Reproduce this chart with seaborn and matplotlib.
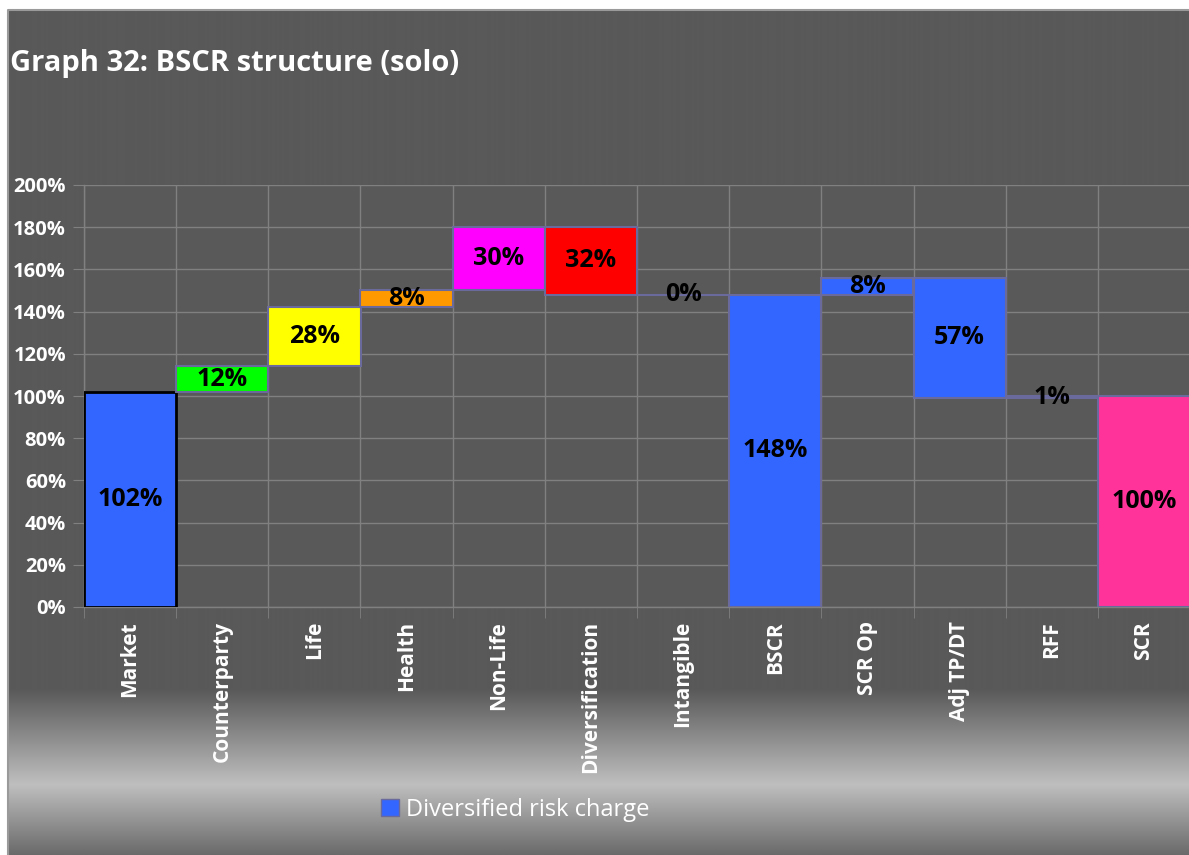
import numpy as np
import pandas as pd
import matplotlib
matplotlib.use('Agg')
import matplotlib.pyplot as plt
from matplotlib.patches import Patch, Rectangle
import seaborn as sns

# waterfall steps of the BSCR build-up (in % of SCR)
categories = ['Market', 'Counterparty', 'Life', 'Health', 'Non-Life', 'Diversification',
              'Intangible', 'BSCR', 'SCR Op', 'Adj TP/DT', 'RFF', 'SCR']
bases = [0, 102, 114, 142, 150, 148, 148, 0, 148, 99, 99, 0]
heights = [102, 12, 28, 8, 30, 32, 0, 148, 8, 57, 1, 100]
labels = ['102%', '12%', '28%', '8%', '30%', '32%', '0%', '148%', '8%', '57%', '1%', '100%']
colors = ['#3366ff', '#00ff00', '#ffff00', '#ff9900', '#ff00ff', '#ff0000',
          '#3366ff', '#3366ff', '#3366ff', '#3366ff', '#3366ff', '#ff3399']
yticks = list(range(0, 201, 20))

df = pd.DataFrame({'cat': categories, 'base': bases, 'height': heights})

sns.set_style('dark')
plt.rcParams['font.family'] = ['Open Sans', 'DejaVu Sans']

bg = '#595959'
grid_c = '#808080'
edge_c = '#6a6a9c'

fig = plt.figure(figsize=(11.89, 8.55), dpi=100, facecolor=bg)

# background panel with gradient at the bottom, white margin top/left
bgax = fig.add_axes([0, 0, 1, 1], zorder=0)
bgax.set_xlim(0, 1189)
bgax.set_ylim(855, 0)
bgax.axis('off')
rows = np.linspace(0, 855, 856)
shade = np.full(rows.shape, 0x59 / 255)
g1 = (rows >= 690) & (rows < 785)
shade[g1] = 0x59 / 255 + (0xbf - 0x59) / 255 * (rows[g1] - 690) / 95
g2 = rows >= 785
shade[g2] = 0xbf / 255 - (0xbf - 0x6a) / 255 * (rows[g2] - 785) / 70
img = np.repeat(shade[:, None], 2, axis=1)
bgax.imshow(np.dstack([img, img, img]), extent=[0, 1195, 855, 0], aspect='auto')
bgax.add_patch(Rectangle((-5, -5), 1205, 15.5, facecolor='white', lw=0))
bgax.add_patch(Rectangle((-5, -5), 12.5, 870, facecolor='white', lw=0))
bgax.plot([7.5, 7.5, 1195], [860, 10.5, 10.5], color='#9a9a9a', lw=1.5)

# axes run a little past the right edge so the SCR bar is cut off there
ax = fig.add_axes([84 / 1189, 1 - 607 / 855, 1106 / 1189, (607 - 185) / 855], zorder=1)
ax.set_facecolor(bg)

sns.barplot(data=df, x='cat', y='height', bottom=df['base'].to_numpy(), width=1.0,
            errorbar=None, ax=ax, color=colors[0], saturation=1,
            linewidth=1.5, edgecolor=edge_c, zorder=3)
for i, p in enumerate(ax.patches):
    p.set_facecolor(colors[i])
    if i == 0:
        p.set_edgecolor('black')
        p.set_linewidth(2)

for i, (b, h, t) in enumerate(zip(bases, heights, labels)):
    ax.text(i, b + h / 2, t, ha='center', va='center', fontsize=18,
            fontweight='bold', color='black', zorder=4)

ax.set_xlim(-0.5, 11.5)
ax.set_ylim(0, 200)
ax.set_yticks(yticks)
ax.set_yticklabels([f'{v}%' for v in yticks])
ax.set_xticks(np.arange(len(categories)))
ax.set_xticklabels(categories, rotation=90)
ax.set_xticks(np.arange(-0.5, 12, 1), minor=True)
ax.grid(False)
ax.grid(True, which='major', axis='y', color=grid_c, lw=1, zorder=0)
ax.grid(True, which='minor', axis='x', color=grid_c, lw=1, zorder=0)
ax.tick_params(axis='y', which='major', length=8, color=grid_c, labelcolor='white',
               labelsize=14.5, pad=5, left=True)
ax.tick_params(axis='x', which='major', length=0, labelcolor='white', labelsize=15, pad=10)
ax.tick_params(axis='x', which='minor', length=8, color=grid_c, bottom=True)
for lab in ax.get_xticklabels() + ax.get_yticklabels():
    lab.set_fontweight('bold')
for s in ['top', 'right']:
    ax.spines[s].set_visible(False)
for s in ['left', 'bottom']:
    ax.spines[s].set_color(grid_c)
    ax.spines[s].set_linewidth(1)
ax.set_xlabel('')
ax.set_ylabel('')

fig.text(10 / 1189, 1 - 63 / 855, 'Graph 32: BSCR structure (solo)', fontsize=21,
         fontweight='bold', color='white', va='center', ha='left', zorder=2)

handle = Patch(facecolor='#3366ff', edgecolor=edge_c, label='Diversified risk charge')
fig.legend(handles=[handle], loc='center', bbox_to_anchor=(515 / 1189, 1 - 810 / 855),
           frameon=False, fontsize=17, labelcolor='white', handlelength=0.75,
           handleheight=0.75, handletextpad=0.3)

fig.savefig('out.png', dpi=100, facecolor=bg)
